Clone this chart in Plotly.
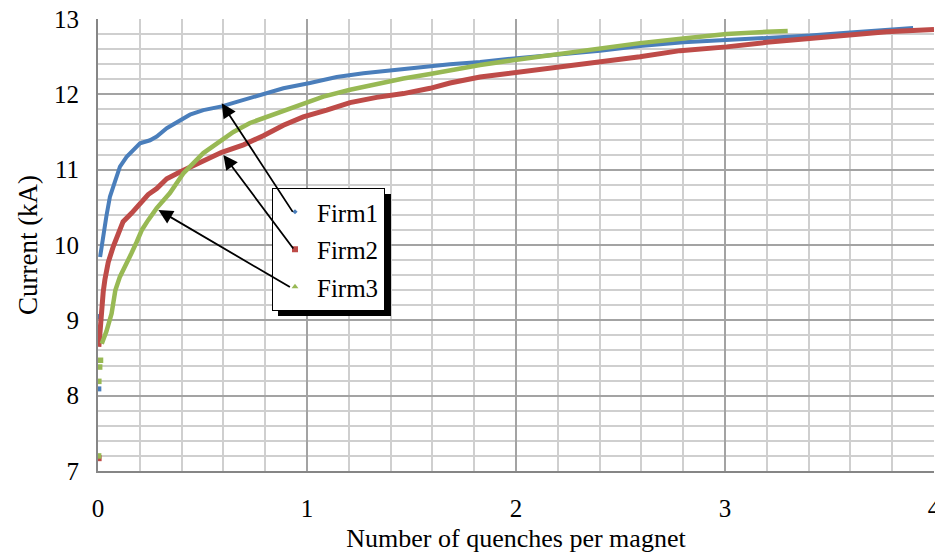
import plotly.graph_objects as go

# ---------------- data ----------------
firm1_sparse_x = [0.004, 0.006]
firm1_sparse_y = [8.09, 9.05]
firm1_x = [0.010, 0.025, 0.040, 0.057, 0.081, 0.105, 0.137, 0.168, 0.201, 0.249,
           0.281, 0.329, 0.392, 0.440, 0.504, 0.592, 0.664, 0.775, 0.887, 1.014,
           1.142, 1.270, 1.397, 1.525, 1.684, 1.828, 2.003, 2.402, 2.593, 2.800,
           3.008, 3.263, 3.407, 3.600, 3.773, 3.900]
firm1_y = [9.84, 10.15, 10.38, 10.64, 10.86, 11.04, 11.17, 11.26, 11.35, 11.39,
           11.44, 11.55, 11.66, 11.73, 11.79, 11.84, 11.90, 11.99, 12.08, 12.15,
           12.23, 12.28, 12.32, 12.36, 12.40, 12.43, 12.48, 12.58, 12.64, 12.69,
           12.72, 12.77, 12.78, 12.82, 12.86, 12.88]

firm2_sparse_x = [0.003]
firm2_sparse_y = [7.17]
firm2_x = [0.004, 0.008, 0.012, 0.015, 0.025, 0.033, 0.041, 0.049, 0.073, 0.095,
           0.120, 0.160, 0.200, 0.240, 0.281, 0.329, 0.392, 0.440, 0.504, 0.592,
           0.696, 0.791, 0.887, 0.982, 1.094, 1.206, 1.333, 1.461, 1.589, 1.684,
           1.828, 2.003, 2.211, 2.402, 2.593, 2.785, 3.008, 3.199, 3.407, 3.598,
           3.773, 4.000]
firm2_y = [8.65, 8.83, 8.96, 9.18, 9.38, 9.54, 9.67, 9.77, 9.98, 10.15,
           10.31, 10.42, 10.55, 10.67, 10.75, 10.88, 10.97, 11.03, 11.12, 11.23,
           11.33, 11.45, 11.59, 11.70, 11.79, 11.89, 11.96, 12.01, 12.08, 12.15,
           12.23, 12.29, 12.37, 12.42, 12.50, 12.58, 12.63, 12.69, 12.74, 12.79,
           12.83, 12.86]

firm3_sparse_x = [0.003, 0.004, 0.008, 0.012]
firm3_sparse_y = [7.20, 8.19, 8.38, 8.47]
firm3_x = [0.018, 0.040, 0.065, 0.083, 0.105, 0.137, 0.160, 0.185, 0.210, 0.240,
           0.281, 0.344, 0.408, 0.504, 0.584, 0.648, 0.727, 0.807, 0.887, 0.982,
           1.078, 1.206, 1.333, 1.461, 1.589, 1.684, 1.828, 2.003, 2.211, 2.402,
           2.593, 2.800, 3.008, 3.199, 3.300]
firm3_y = [8.69, 8.85, 9.09, 9.40, 9.58, 9.75, 9.89, 10.04, 10.20, 10.33,
           10.49, 10.69, 10.95, 11.22, 11.37, 11.50, 11.62, 11.70, 11.77, 11.86,
           11.97, 12.06, 12.14, 12.21, 12.27, 12.32, 12.39, 12.46, 12.54, 12.61,
           12.68, 12.74, 12.80, 12.83, 12.84]

series_names = ["Firm1", "Firm2", "Firm3"]
colors = ["#4A7EBB", "#BE4B48", "#98B954"]
symbols = ["diamond", "square", "triangle-up"]

# arrow heads (data coords) pointing at each curve
arrow_x = [0.592, 0.600, 0.289]
arrow_y = [11.88, 11.195, 10.465]

x_title = "Number of quenches per magnet"
y_title = "Current (kA)"

FONT = "Liberation Serif"

fig = go.Figure()

curves = [
    (firm1_sparse_x, firm1_sparse_y, firm1_x, firm1_y, 4),
    (firm2_sparse_x, firm2_sparse_y, firm2_x, firm2_y, 5),
    (firm3_sparse_x, firm3_sparse_y, firm3_x, firm3_y, 4.5),
]
for i, (sx, sy, lx, ly, w) in enumerate(curves):
    fig.add_trace(go.Scatter(x=sx, y=sy, mode="markers",
                             marker=dict(color=colors[i], size=w + 1, symbol="square"),
                             showlegend=False, hoverinfo="skip"))
    fig.add_trace(go.Scatter(x=lx, y=ly, mode="lines",
                             line=dict(color=colors[i], width=w),
                             showlegend=False, name=series_names[i]))

# legend entries (markers only, as in the reference)
legend_sizes = [4, 6, 6]
for i, name in enumerate(series_names):
    fig.add_trace(go.Scatter(x=[None], y=[None], mode="markers", name=name,
                             legendgroup=name,
                             marker=dict(color=colors[i], symbol=symbols[i],
                                         size=legend_sizes[i])))

# plot-area geometry (px) used to place legend / shadow in paper coords
L, T, W, H = 98, 19, 836, 452
def px_x(p):
    return (p - L) / W
def px_y(p):
    return (T + H - p) / H

leg_left, leg_top = 272, 188
fig.add_shape(type="rect", xref="paper", yref="paper",
              x0=px_x(leg_left + 6), x1=px_x(leg_left + 113 + 6),
              y0=px_y(leg_top + 122 + 6), y1=px_y(leg_top + 6),
              fillcolor="black", line=dict(width=0), layer="above")

# arrows from legend markers to curves (tail offsets in px)
tails = [(72.0, 110.0), (71.0, 95.0), (133.0, 78.0)]
for i in range(3):
    fig.add_annotation(x=arrow_x[i], y=arrow_y[i], xref="x", yref="y",
                       ax=tails[i][0], ay=tails[i][1], text="",
                       showarrow=True, arrowhead=2, arrowsize=1.6,
                       arrowwidth=1.8, arrowcolor="black", standoff=0)

fig.update_layout(
    template="none",
    width=935, height=553,
    margin=dict(l=98, r=1, t=19, b=82),
    paper_bgcolor="white", plot_bgcolor="white",
    font=dict(family=FONT, color="black", size=24),
    showlegend=True,
    legend=dict(x=px_x(leg_left), y=px_y(leg_top), xanchor="left", yanchor="top",
                bgcolor="white", bordercolor="black", borderwidth=1,
                font=dict(family=FONT, size=25, color="black"),
                tracegroupgap=2, itemwidth=34),
    xaxis=dict(range=[0, 4], tick0=0, dtick=1, showgrid=True,
               gridcolor="#a3a3a3", gridwidth=1.5,
               minor=dict(dtick=0.2, showgrid=True, gridcolor="#cfcfcf", gridwidth=1.5),
               showline=True, linecolor="#868686", linewidth=2,
               zeroline=False, ticks="", ticklabelstandoff=14,
               ticklabeloverflow="allow",
               tickfont=dict(family=FONT, size=25, color="black"), automargin=False,
               title=dict(text=x_title, font=dict(family=FONT, size=26, color="black"),
                          standoff=12)),
    yaxis=dict(range=[7, 13], tick0=7, dtick=1, showgrid=True,
               gridcolor="#a3a3a3", gridwidth=1.5,
               minor=dict(dtick=0.2, showgrid=True, gridcolor="#cfcfcf", gridwidth=1.5),
               showline=True, linecolor="#868686", linewidth=2,
               zeroline=False, ticks="", ticklabelstandoff=12,
               tickfont=dict(family=FONT, size=25, color="black"), automargin=False,
               title=dict(text=y_title, font=dict(family=FONT, size=27, color="black"),
                          standoff=9)),
)

fig.write_html("out.html")
